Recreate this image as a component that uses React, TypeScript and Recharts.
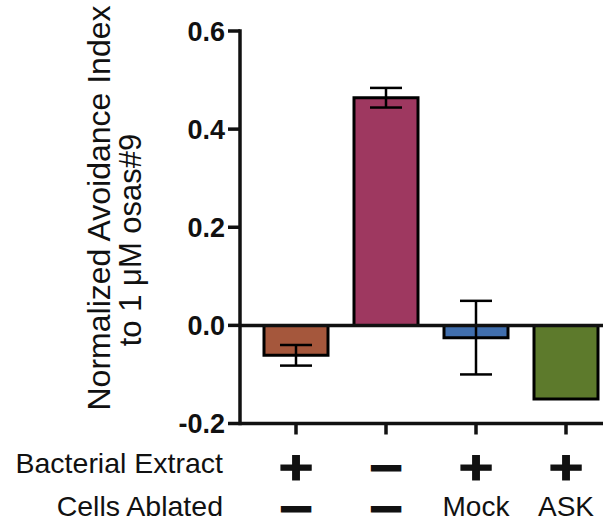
import React from 'react';
import { BarChart, Bar, XAxis, YAxis, ErrorBar, Cell, ReferenceLine } from 'recharts';

const groups = ['G1', 'G2', 'G3', 'G4'];
const means = [-0.061, 0.464, -0.025, -0.15];
const errs = [0.021, 0.02, 0.075, 0];
const colors = ['#A5573C', '#9E3860', '#406EAD', '#5D7A2C'];
const extractRow = ['+', '−', '+', '+'];
const ablatedRow = ['−', '−', 'Mock', 'ASK'];
const yTicks = [-0.2, 0, 0.2, 0.4, 0.6];
const rowLabels = ['Bacterial Extract', 'Cells Ablated'];
const yTitle = ['Normalized Avoidance Index', 'to 1 μM osas#9'];

const data = groups.map((g, i) => ({ name: g, value: means[i], err: errs[i] }));

const FONT = '"Liberation Sans", Arial, Helvetica, sans-serif';
const INK = '#111';

function Plus({ x, y }: { x: number; y: number }) {
  return (
    <text
      x={0}
      y={0}
      transform={`translate(${x},${y}) scale(1.25,1)`}
      textAnchor="middle"
      dominantBaseline="central"
      fontFamily={FONT}
      fontWeight="bold"
      fontSize={48}
      fill={INK}
      stroke={INK}
      strokeWidth={1}
    >
      +
    </text>
  );
}

function Minus({ x, y }: { x: number; y: number }) {
  return (
    <text
      x={0}
      y={0}
      transform={`translate(${x},${y}) scale(1.9,1)`}
      textAnchor="middle"
      dominantBaseline="central"
      fontFamily={FONT}
      fontWeight="bold"
      fontSize={24}
      fill={INK}
      stroke={INK}
      strokeWidth={4}
    >
      −
    </text>
  );
}

function Sym({ x, y, s }: { x: number; y: number; s: string }) {
  return s === '+' ? <Plus x={x} y={y} /> : <Minus x={x} y={y} />;
}

function XTick(props: any) {
  const { x, y, payload } = props;
  const i = payload.index;
  const top = extractRow[i];
  const bottom = ablatedRow[i];
  const isSym = bottom === '+' || bottom === '−';
  return (
    <g>
      <Sym x={x} y={y + 33} s={top} />
      {isSym ? (
        <Sym x={x} y={y + 74} s={bottom} />
      ) : (
        <text x={x} y={y + 81.5} textAnchor="middle" fontFamily={FONT} fontSize={28} fill={INK}>
          {bottom}
        </text>
      )}
    </g>
  );
}

function RowLabels(props: any) {
  const vb = props.viewBox || { x: 240, y: 423.5 };
  return (
    <g>
      <text x={vb.x - 17} y={vb.y + 49.5} textAnchor="end" fontFamily={FONT} fontSize={28.5} fill={INK}>
        {rowLabels[0]}
      </text>
      <text x={vb.x - 17} y={vb.y + 92} textAnchor="end" fontFamily={FONT} fontSize={28.5} fill={INK}>
        {rowLabels[1]}
      </text>
    </g>
  );
}

function YTitle(props: any) {
  const vb = props.viewBox || { x: 0, y: 31, height: 392.5 };
  const c1x = 110;
  const c1y = vb.y + 177;
  const c2x = 141;
  const c2y = vb.y + 209;
  return (
    <g>
      <text
        x={c1x}
        y={c1y}
        transform={`rotate(-90, ${c1x}, ${c1y})`}
        textAnchor="middle"
        fontFamily={FONT}
        fontSize={32}
        fill={INK}
      >
        {yTitle[0]}
      </text>
      <text
        x={c2x}
        y={c2y}
        transform={`rotate(-90, ${c2x}, ${c2y})`}
        textAnchor="middle"
        fontFamily={FONT}
        fontSize={31}
        fill={INK}
      >
        {yTitle[1]}
      </text>
    </g>
  );
}

export default function App() {
  return (
    <div
      style={{
        position: 'fixed',
        left: 0,
        top: 0,
        width: 603,
        height: 522,
        overflow: 'hidden',
        background: '#fff',
      }}
    >
      <BarChart
        width={611}
        height={522}
        data={data}
        margin={{ top: 31, right: 0, bottom: 0, left: 0 }}
        barSize={64}
      >
        <XAxis
          dataKey="name"
          height={98.5}
          padding={{ left: 11, right: 0 }}
          axisLine={{ stroke: INK, strokeWidth: 3.5 }}
          tickLine={{ stroke: INK, strokeWidth: 3.5 }}
          tickSize={11}
          tickMargin={0}
          tick={<XTick />}
          interval={0}
          label={<RowLabels />}
        />
        <YAxis
          width={240}
          domain={[-0.2, 0.6]}
          ticks={yTicks}
          interval={0}
          tickFormatter={(v: number) => v.toFixed(1)}
          axisLine={{ stroke: INK, strokeWidth: 3.5, strokeLinecap: 'square' }}
          tickLine={{ stroke: INK, strokeWidth: 3.5 }}
          tickSize={12}
          tickMargin={3}
          tick={{ fill: INK, fontSize: 27, fontWeight: 'bold', fontFamily: FONT }}
          label={<YTitle />}
        />
        <Bar dataKey="value" stroke="#000" strokeWidth={3} isAnimationActive={false}>
          {data.map((d, i) => (
            <Cell key={d.name} fill={colors[i]} />
          ))}
          <ErrorBar dataKey="err" width={16} stroke="#000" strokeWidth={2.5} direction="y" />
        </Bar>
        <ReferenceLine y={0} stroke={INK} strokeWidth={3.5} />
      </BarChart>
    </div>
  );
}
